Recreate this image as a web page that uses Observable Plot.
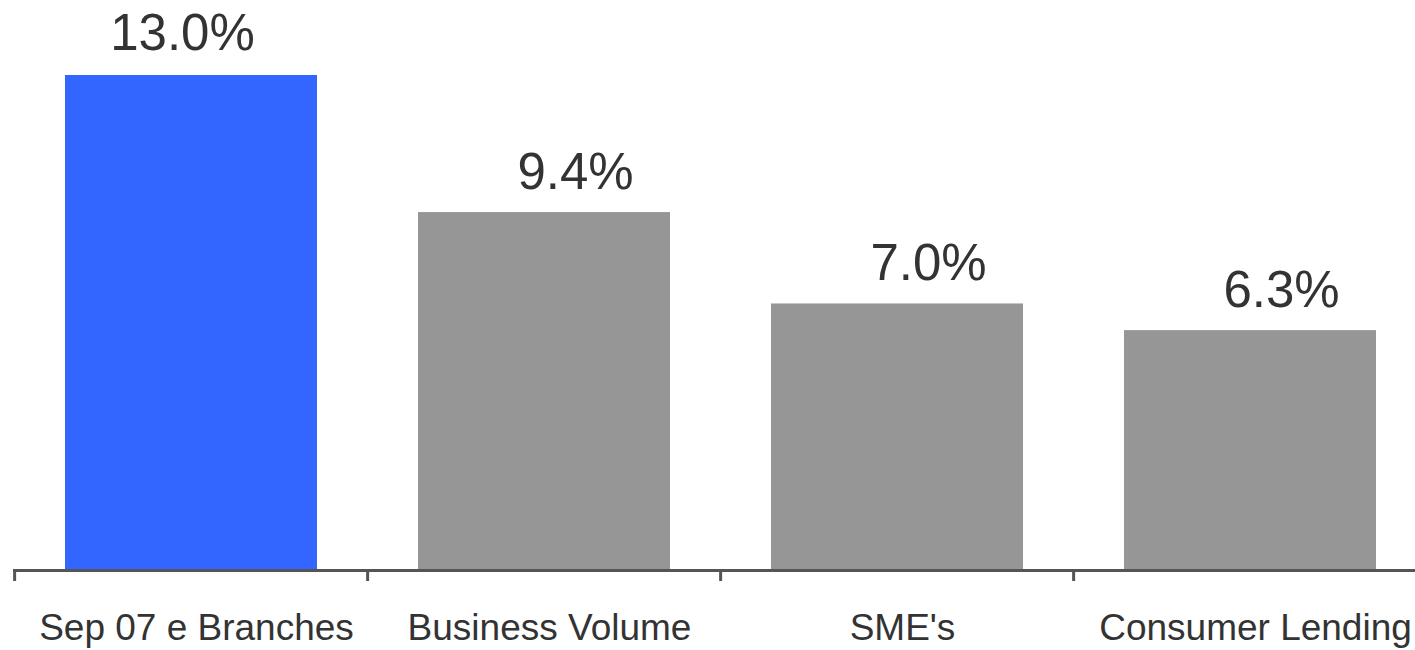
<!DOCTYPE html>
<html><head><meta charset="utf-8">
<script src="https://cdn.jsdelivr.net/npm/d3@7"></script>
<script src="https://cdn.jsdelivr.net/npm/@observablehq/plot@0.6"></script>
<style>body{margin:0;background:#fff;} svg{font-family:"Liberation Sans",Arial,sans-serif;}</style>
</head><body><div id="chart"></div>
<script>
const categories = ["Sep 07 e Branches", "Business Volume", "SME's", "Consumer Lending"];
const values = [13.0, 9.4, 7.0, 6.3];
const highlight = ["Sep 07 e Branches"];

const data = categories.map((c, i) => ({cat: c, value: values[i]}));
const W = 1415, H = 650, MT = 75, MB = 80;
const xRange = [13, 1428];
const step = (xRange[1] - xRange[0]) / categories.length;

const chart = Plot.plot({
  width: W,
  height: H,
  marginTop: MT,
  marginBottom: MB,
  marginLeft: 13,
  marginRight: 0,
  style: {fontFamily: "Liberation Sans, Arial, sans-serif", background: "#fff"},
  x: {domain: categories, range: xRange, paddingInner: 0.285, paddingOuter: 0.1425, axis: null},
  y: {domain: [0, 13], axis: null},
  marks: [
    Plot.barY(data, {x: "cat", y: "value", fill: d => highlight.includes(d.cat) ? "#3366FF" : "#969696"}),
    Plot.ruleX(categories, {x: d => d, dx: -step / 2, stroke: "#555", strokeWidth: 3, insetTop: H - MT - MB, insetBottom: -11}),
    Plot.ruleY([0], {stroke: "#555", strokeWidth: 3}),
    Plot.text(data.filter(d => highlight.includes(d.cat)), {x: "cat", y: "value", text: d => d.value.toFixed(1) + "%", dy: -42, dx: -9, lineAnchor: "middle", fontSize: 51, fill: "#333"}),
    Plot.text(data.filter(d => !highlight.includes(d.cat)), {x: "cat", y: "value", text: d => d.value.toFixed(1) + "%", dy: -40, dx: 31, lineAnchor: "middle", fontSize: 51, fill: "#333"}),
    Plot.text(data, {x: "cat", y: 0, text: "cat", dy: 58, dx: 5, lineAnchor: "middle", fontSize: 37, fill: "#333"})
  ]
});
document.getElementById("chart").appendChild(chart);
</script></body></html>
